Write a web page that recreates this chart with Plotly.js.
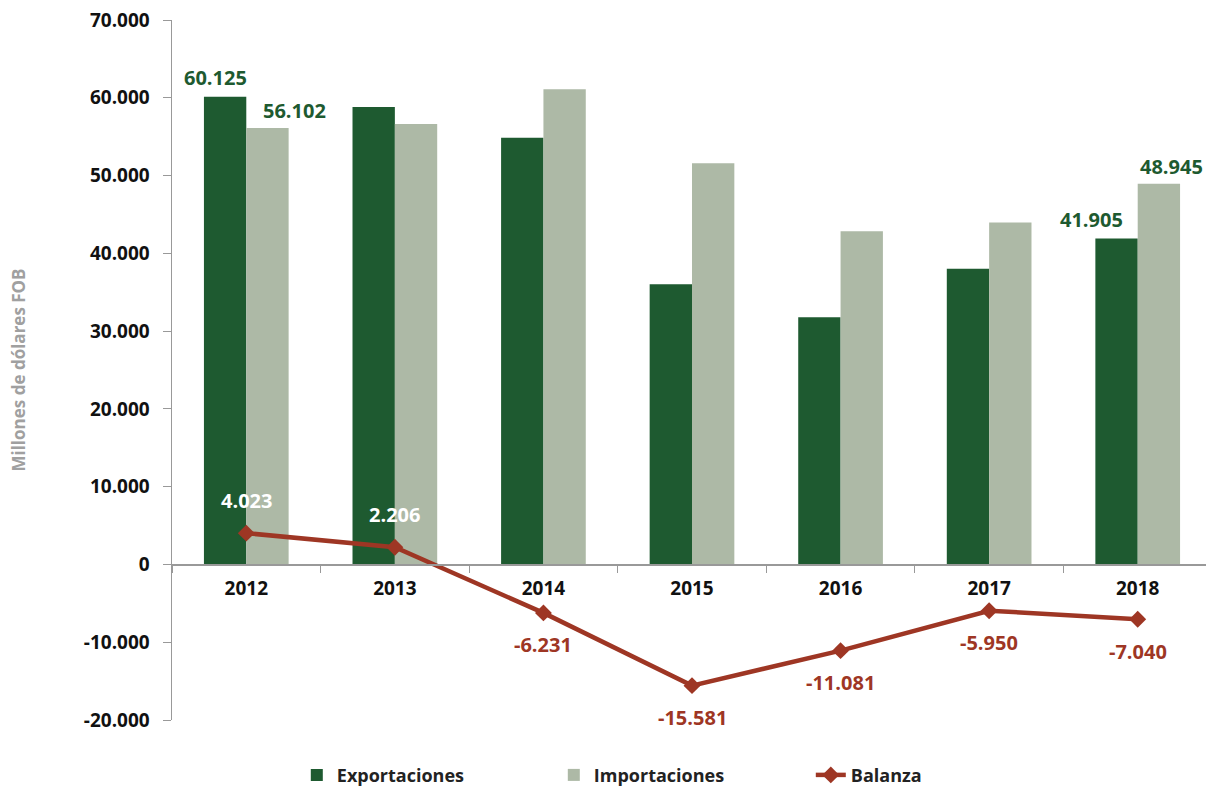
<!DOCTYPE html>
<html>
<head>
<meta charset="utf-8">
<script src="https://cdn.plot.ly/plotly-3.0.1.min.js"></script>
<style>html,body{margin:0;padding:0;overflow:hidden;background:#fff;}</style>
</head>
<body>
<div id="chart"></div>
<script>
const years = ['2012','2013','2014','2015','2016','2017','2018'];
const exportaciones = [60125, 58826, 54857, 36018, 31768, 38022, 41905];
const importaciones = [56102, 56620, 61088, 51598, 42849, 43972, 48945];
const balanza = [4023, 2206, -6231, -15581, -11081, -5950, -7040];
const exportLabelShown = [true, false, false, false, false, false, true];
const importLabelShown = [true, false, false, false, false, false, true];
const yTickVals = [-20000, -10000, 0, 10000, 20000, 30000, 40000, 50000, 60000, 70000];

function fmt(v) {
  const s = Math.abs(Math.round(v)).toString().replace(/\B(?=(\d{3})+(?!\d))/g, '.');
  return (v < 0 ? '-' : '') + s;
}

const GREEN = '#1e5a30';
const GRAY_GREEN = '#adb9a6';
const RED = '#9e3624';
const FONT = 'Open Sans, sans-serif';
const LABEL_FONT = {family: FONT, size: 20, color: GREEN, weight: 'bold'};

const traces = [
  {
    type: 'bar', name: 'Exportaciones', x: years, y: exportaciones,
    marker: {color: GREEN}, hoverinfo: 'skip'
  },
  {
    type: 'bar', name: 'Importaciones', x: years, y: importaciones,
    marker: {color: GRAY_GREEN}, hoverinfo: 'skip'
  },
  {
    type: 'scatter', mode: 'lines+markers', name: 'Balanza', x: years, y: balanza,
    line: {color: RED, width: 4.5},
    marker: {symbol: 'diamond', size: 13, color: RED},
    cliponaxis: false, hoverinfo: 'skip'
  }
];

// annotations reference categories by their index on the category axis
const annotations = [];
years.forEach((yr, i) => {
  if (exportLabelShown[i]) annotations.push({
    x: i, y: exportaciones[i], xref: 'x', yref: 'y', text: fmt(exportaciones[i]),
    showarrow: false, xanchor: 'center', yanchor: 'bottom', xshift: i === 0 ? -31 : -46, yshift: 4,
    font: LABEL_FONT
  });
  if (importLabelShown[i]) annotations.push({
    x: i, y: importaciones[i], xref: 'x', yref: 'y', text: fmt(importaciones[i]),
    showarrow: false, xanchor: 'center', yanchor: 'bottom', xshift: i === 0 ? 48 : 34, yshift: 2,
    font: LABEL_FONT
  });
  const pos = balanza[i] >= 0;
  annotations.push({
    x: i, y: balanza[i], xref: 'x', yref: 'y', text: fmt(balanza[i]),
    showarrow: false, xanchor: 'center', yanchor: 'middle', yshift: pos ? 33 : -32,
    font: {family: FONT, size: 20, weight: 'bold', color: pos ? '#ffffff' : RED}
  });
});

const layout = {
  width: 1214, height: 787,
  margin: {l: 172, r: 2, t: 20, b: 67, autoexpand: false},
  paper_bgcolor: '#ffffff', plot_bgcolor: '#ffffff',
  separators: ',.',
  font: {family: FONT, color: '#111'},
  barmode: 'group', bargap: 0.43, bargroupgap: 0,
  showlegend: true,
  annotations: annotations,
  legend: {
    orientation: 'h', x: 0.12, xanchor: 'left', yref: 'container', y: 0.015, yanchor: 'middle',
    font: {family: FONT, size: 18, color: '#222', weight: 'bold'},
    entrywidth: 212, entrywidthmode: 'pixels', traceorder: 'normal'
  },
  xaxis: {
    type: 'category', range: [-0.5, years.length - 0.5], autorange: false,
    anchor: 'free', position: 20000 / 90000,
    showline: true, linecolor: '#999', linewidth: 1.5,
    ticks: 'outside', tickson: 'boundaries', ticklen: 7, tickcolor: '#999',
    ticklabelstandoff: 6,
    tickfont: {family: FONT, size: 19, color: '#111', weight: 'bold'},
    showgrid: false, zeroline: false, fixedrange: true
  },
  yaxis: {
    range: [-20000, 70000], autorange: false,
    tickvals: yTickVals, ticktext: yTickVals.map(fmt),
    showline: true, linecolor: '#999', linewidth: 1.5,
    ticks: 'outside', ticklen: 8, tickcolor: '#999',
    ticklabelstandoff: 9,
    tickfont: {family: FONT, size: 19, color: '#111', weight: 'bold'},
    showgrid: false, zeroline: false,
    title: {text: 'Millones de dólares FOB', font: {family: FONT, size: 17, color: '#a0a0a0', weight: 'bold'}, standoff: 54},
    fixedrange: true
  }
};

Plotly.newPlot('chart', traces, layout, {displayModeBar: false, staticPlot: true});
</script>
</body>
</html>
